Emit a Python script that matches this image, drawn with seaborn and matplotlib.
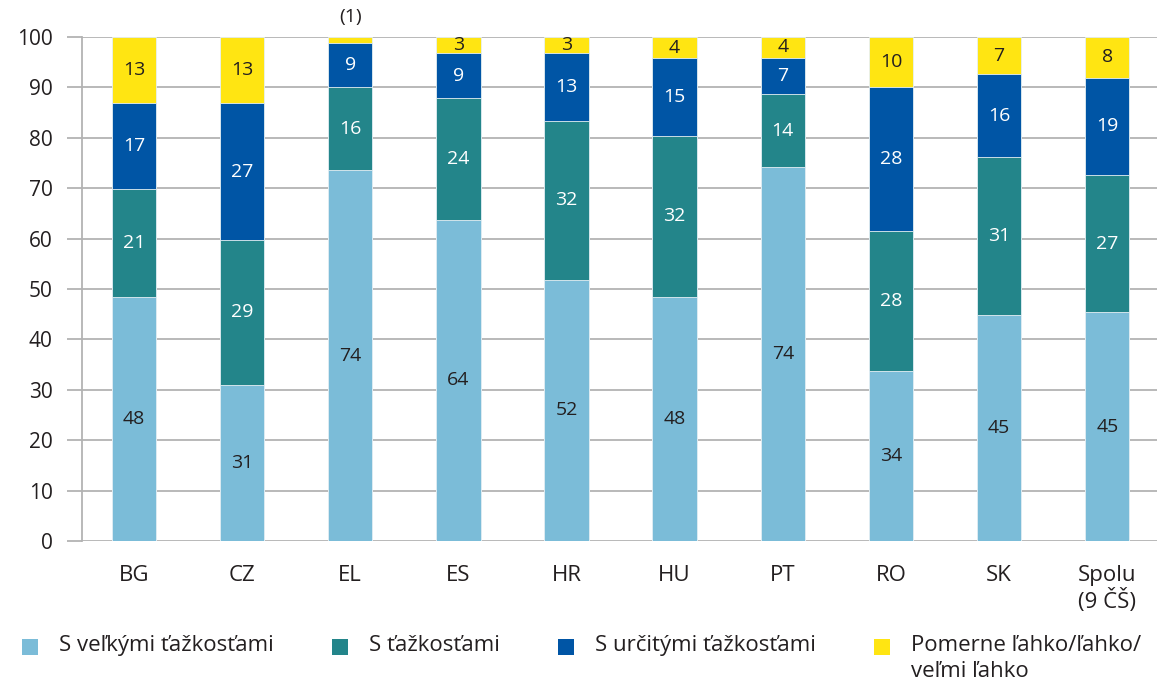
import matplotlib
matplotlib.use("Agg")
import matplotlib.pyplot as plt
from matplotlib.patches import Patch, Rectangle
from matplotlib.legend_handler import HandlerPatch
import numpy as np
import pandas as pd
import seaborn as sns

# ---------------- data ----------------
categories = ["BG", "CZ", "EL", "ES", "HR", "HU", "PT", "RO", "SK", "Spolu\n(9 ČŠ)"]
s_velkymi = [48.4, 31.0, 73.6, 63.7, 51.8, 48.4, 74.2, 33.8, 44.8, 45.4]
s_tazkostami = [21.4, 28.7, 16.4, 24.2, 31.6, 32.0, 14.4, 27.8, 31.4, 27.2]
s_urcitymi = [17.1, 27.2, 8.8, 8.9, 13.4, 15.4, 7.3, 28.4, 16.4, 19.3]
pomerne_lahko = [13.1, 13.1, 1.2, 3.2, 3.2, 4.2, 4.1, 10.0, 7.4, 8.1]
labels_velkymi = [48, 31, 74, 64, 52, 48, 74, 34, 45, 45]
labels_tazkostami = [21, 29, 16, 24, 32, 32, 14, 28, 31, 27]
labels_urcitymi = [17, 27, 9, 9, 13, 15, 7, 28, 16, 19]
labels_lahko = ["13", "13", "(1)", "3", "3", "4", "4", "10", "7", "8"]
series_names = ["S veľkými ťažkosťami", "S ťažkosťami", "S určitými ťažkosťami",
                "Pomerne ľahko/ľahko/\nveľmi ľahko"]
colors = ["#7bbcd8", "#23858a", "#0055a5", "#ffe512"]
yticks = list(range(0, 101, 10))

series = [s_velkymi, s_tazkostami, s_urcitymi, pomerne_lahko]
seg_labels = [labels_velkymi, labels_tazkostami, labels_urcitymi, labels_lahko]
label_colors = ["#231f20", "white", "white", "#231f20"]

# ---------------- style ----------------
sns.set_theme(style="white")
plt.rcParams["font.family"] = ["Open Sans", "DejaVu Sans"]
TXT = "#231f20"
GRID = "#b3b3b3"

fig = plt.figure(figsize=(11.57, 6.82), dpi=100)
ax = fig.add_axes([82 / 1157, 1 - 541 / 682, 1 - 82 / 1157, (541 - 37) / 682])

cum = np.cumsum(np.array(series), axis=0)
# draw cumulative totals from the top layer down, so bars appear stacked
for k in range(3, -1, -1):
    df = pd.DataFrame({"cat": categories, "val": cum[k]})
    sns.barplot(data=df, x="cat", y="val", order=categories, color=colors[k],
                width=0.41, saturation=1, edgecolor="#e6f0f5", linewidth=0.6,
                ax=ax, zorder=2)

# segment labels
for k in range(4):
    bottoms = cum[k] - np.array(series[k])
    for i in range(len(categories)):
        lab = seg_labels[k][i]
        v = series[k][i]
        if isinstance(lab, str) and lab.startswith("("):
            ax.text(i, 100 + 2.2, lab, ha="center", va="bottom", fontsize=14,
                    color=TXT, clip_on=False)
        else:
            ax.text(i, bottoms[i] + v / 2, str(lab), ha="center", va="center",
                    fontsize=14, color=label_colors[k], zorder=3)

ax.set_xlim(-0.48, 9.46)
ax.set_ylim(0, 100)
ax.set_yticks(yticks)
ax.set_yticklabels([str(t) for t in yticks])
ax.set_xlabel("")
ax.set_ylabel("")
ax.grid(axis="y", color=GRID, linewidth=1.3, zorder=0)
ax.set_axisbelow(True)
for s in ["top", "right", "bottom"]:
    ax.spines[s].set_visible(False)
ax.spines["left"].set_color(GRID)
ax.spines["left"].set_linewidth(1.3)
ax.tick_params(axis="y", length=11, width=1.3, color=GRID, pad=10,
               labelsize=15, labelcolor=TXT, left=True)
ax.tick_params(axis="x", length=0, pad=17, labelsize=16, labelcolor=TXT)
for t in ax.get_xticklabels():
    t.set_va("top")
    t.set_ha("center")
    t.set_linespacing(1.2)


def square_patch(legend, orig_handle, xdescent, ydescent, width, height, fontsize):
    s = width
    return Rectangle((-xdescent, -ydescent + (height - s) / 2), s, s)


handles = [Patch(facecolor=c, edgecolor="none") for c in colors]
leg = fig.legend(handles, series_names, loc="upper left",
                 bbox_to_anchor=(22 / 1157, 1 - 635 / 682), ncol=4, frameon=False,
                 fontsize=16, handlelength=0.73, handleheight=1.25,
                 handletextpad=0.95, columnspacing=2.6, borderaxespad=0, borderpad=0,
                 labelcolor=TXT,
                 handler_map={Patch: HandlerPatch(patch_func=square_patch)})
for t in leg.get_texts():
    t.set_linespacing(1.3)
# align each legend marker with the first line of its label, columns top-aligned
leg._legend_handle_box.align = "top"
for col in leg._legend_handle_box.get_children():
    col.align = "left"
    for item in col.get_children():
        item.align = "top"

fig.savefig("out.png", dpi=100)
